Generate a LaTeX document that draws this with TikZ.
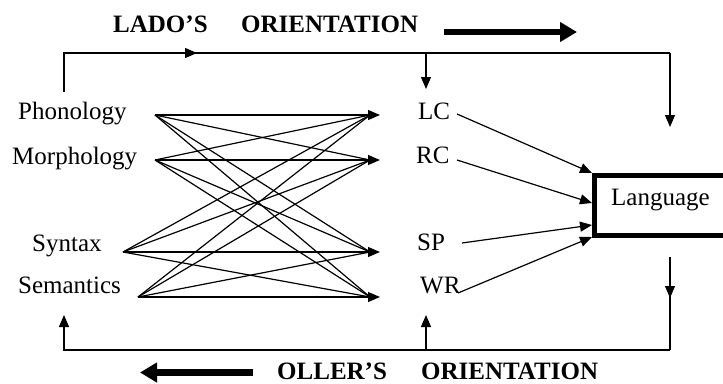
\documentclass[tikz,border=0pt]{standalone}
\usepackage{fontspec}
\setmainfont{Liberation Serif}
\usetikzlibrary{arrows.meta}
\begin{document}
\begin{tikzpicture}[x=1pt,y=-1pt,
  lbl/.style={font=\fontsize{25}{30}\selectfont, inner sep=0pt, anchor=base west},
  hd/.style={font=\fontsize{25}{30}\selectfont\bfseries, inner sep=0pt, anchor=base west},
  thinln/.style={line width=1.2pt},
  arr/.style={thinln,-{Triangle[length=12pt,width=10pt]}},
  fat/.style={line width=6.5pt,-{Triangle[length=17pt,width=19pt]}},
  boxst/.style={draw, line width=5pt, inner sep=0pt, outer sep=0pt, minimum width=160pt, minimum height=60pt, anchor=north west}]
\useasboundingbox (0,0) rectangle (723,383);
% box
\node[boxst] (box) at (594.5,175.5) {};
\node[lbl] (lt) at (611,205) {Language};
% labels
\node[lbl] (pho) at (18,119) {Phonology};
\node[lbl] (mor) at (12,164) {Morphology};
\node[lbl] (syn) at (32,251) {Syntax};
\node[lbl] (sem) at (18,293) {Semantics};
\node[lbl] (lc) at (418,119) {LC};
\node[lbl] (rc) at (416,163) {RC};
\node[lbl] (sp) at (417,250) {SP};
\node[lbl] (wr) at (420,293) {WR};
\node[hd] (lado) at (113,32) {LADO'S};
\node[hd] (lor) at (241,32) {ORIENTATION};
\node[hd] (oll) at (277,379.5) {OLLER'S};
\node[hd] (oor) at (421,379.5) {ORIENTATION};
% fat arrows
\coordinate (f1a) at (444,32); \coordinate (f1b) at (577,32);
\coordinate (f2a) at (253,372.5); \coordinate (f2b) at (140,372.5);
\draw[fat] (f1a) -- (f1b);
\draw[fat] (f2a) -- (f2b);
% sources and targets
\coordinate (s1) at (155,115); \coordinate (s2) at (155,160);
\coordinate (s3) at (123,252); \coordinate (s4) at (138,297);
\coordinate (t1) at (380,115); \coordinate (t2) at (380,160);
\coordinate (t3) at (380,252); \coordinate (t4) at (380,297);
\coordinate (u1) at (370,115); \coordinate (u2) at (370,160);
\coordinate (u3) at (370,252); \coordinate (u4) at (370,297);
\foreach \i in {1,...,4}{\foreach \j in {1,...,4}{\draw[thinln] (s\i) -- (u\j);}}
\foreach \j in {1,...,4}{\draw[arr] (s\j) -- (t\j);}
% into language
\coordinate (l1) at (457,114); \coordinate (k1) at (592,173);
\coordinate (l2) at (457,160); \coordinate (k2) at (592,203);
\coordinate (l3) at (462,243); \coordinate (k3) at (592,225);
\coordinate (l4) at (458,293); \coordinate (k4) at (592,237);
\foreach \j in {1,...,4}{\draw[arr] (l\j) -- (k\j);}
% top frame
\coordinate (a0) at (64,92); \coordinate (a1) at (64,53);
\coordinate (am) at (197,53); \coordinate (a2) at (670,53);
\coordinate (a3) at (670,127);
\coordinate (c0) at (426,53); \coordinate (c1) at (426,89);
\draw[thinln] (a0) -- (a1) -- (a2);
\draw[arr] (a1) -- (am);
\draw[arr] (a2) -- (a3);
\draw[arr] (c0) -- (c1);
% bottom frame
\coordinate (b0) at (670,257); \coordinate (bm) at (670,298);
\coordinate (b1) at (670,350); \coordinate (b2) at (64,350);
\coordinate (b3) at (64,315);
\coordinate (m0) at (426,350); \coordinate (m1) at (426,315);
\draw[thinln] (b0) -- (b1);
\draw[arr] (b0) -- (bm);
\draw[arr] (b1) -- (b2) -- (b3);
\draw[arr] (m0) -- (m1);
\end{tikzpicture}
\end{document}
